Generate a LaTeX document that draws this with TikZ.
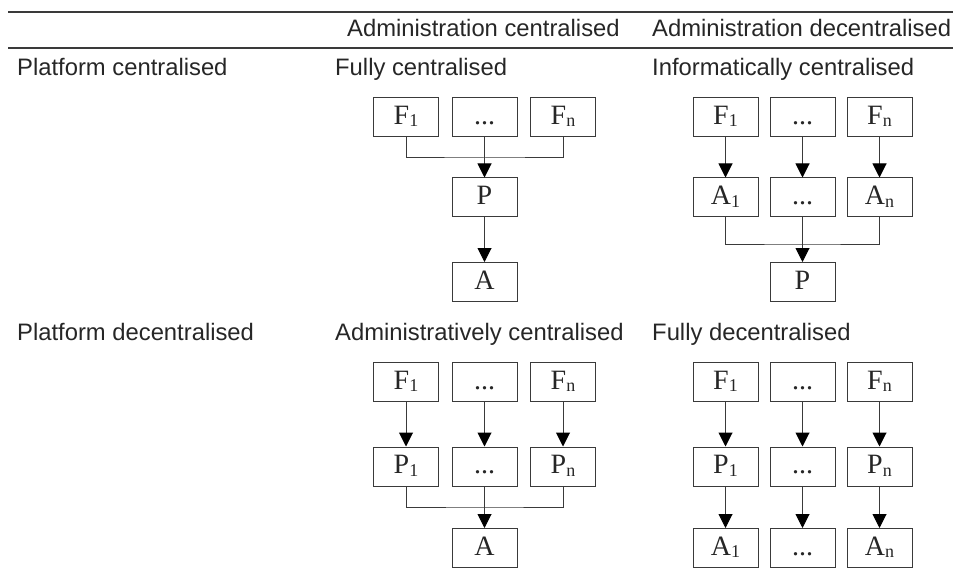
\documentclass[tikz,border=0pt]{standalone}
\usepackage{fontspec}
\setmainfont{Liberation Serif}
\setsansfont{Liberation Sans}
\usetikzlibrary{arrows.meta}
\definecolor{txt}{HTML}{262626}
\definecolor{linec}{HTML}{3A3A3A}
\newcommand{\sbs}[1]{{\fontsize{18}{18}\selectfont\raisebox{-2.5pt}{#1}}}
\tikzset{
  box/.style={draw=linec, line width=1pt, minimum width=65pt, minimum height=39pt, inner sep=0pt, text height=18pt, text depth=4pt, font=\fontsize{28}{28}\selectfont, text=txt},
  lab/.style={anchor=base west, font=\sffamily\fontsize{23.8}{24}\selectfont, text=txt, inner sep=0pt},
  con/.style={draw=linec, line width=1pt},
  arr/.style={draw=linec, line width=1pt, -{Triangle[length=14pt,width=14pt,color=black]}},
  rulel/.style={draw=linec, line width=1.3pt}
}
\begin{document}
\begin{tikzpicture}[x=1pt,y=1pt]
\useasboundingbox (0,0) rectangle (953,-572);
% rules
\coordinate (r1a) at (8,-12); \coordinate (r1b) at (953,-12);
\coordinate (r2a) at (8,-48); \coordinate (r2b) at (953,-48);
\draw[rulel] (r1a) -- (r1b);
\draw[rulel] (r2a) -- (r2b);
% headers and labels
\node[lab] (h1) at (347,-37) {Administration centralised};
\node[lab] (h2) at (652,-37) {Administration decentralised};
\node[lab] (l1) at (17,-76) {Platform centralised};
\node[lab] (t1) at (335,-76) {Fully centralised};
\node[lab] (t2) at (652,-76) {Informatically centralised};
\node[lab] (l2) at (17,-340) {Platform decentralised};
\node[lab] (t3) at (335,-340) {Administratively centralised};
\node[lab] (t4) at (652,-340) {Fully decentralised};

% ---- Fully centralised
\node[box] (a1) at (406,-117.5) {F\sbs{1}};
\node[box] (a2) at (484.5,-117.5) {...};
\node[box] (a3) at (563,-117.5) {F\sbs{n}};
\node[box] (ap) at (484.5,-197.5) {P};
\node[box] (aa) at (484.5,-282) {A};
\coordinate (aj) at (484.5,-158);
\draw[con] (a1.south) |- (aj) -| (a3.south);
\draw[arr] (a2) -- (ap);
\draw[arr] (ap) -- (aa);

% ---- Informatically centralised
\node[box] (b1) at (725.5,-117.5) {F\sbs{1}};
\node[box] (b2) at (802.5,-117.5) {...};
\node[box] (b3) at (879.5,-117.5) {F\sbs{n}};
\node[box] (ba1) at (725.5,-197.5) {A\sbs{1}};
\node[box] (ba2) at (802.5,-197.5) {...};
\node[box] (ba3) at (879.5,-197.5) {A\sbs{n}};
\node[box] (bp) at (802.5,-282) {P};
\coordinate (bj) at (802.5,-244);
\draw[arr] (b1) -- (ba1);
\draw[arr] (b2) -- (ba2);
\draw[arr] (b3) -- (ba3);
\draw[con] (ba1.south) |- (bj) -| (ba3.south);
\draw[arr] (ba2) -- (bp);

% ---- Administratively centralised
\node[box] (c1) at (406,-382) {F\sbs{1}};
\node[box] (c2) at (484.5,-382) {...};
\node[box] (c3) at (563,-382) {F\sbs{n}};
\node[box] (cp1) at (406,-466.5) {P\sbs{1}};
\node[box] (cp2) at (484.5,-466.5) {...};
\node[box] (cp3) at (563,-466.5) {P\sbs{n}};
\node[box] (ca) at (484.5,-548) {A};
\coordinate (cj) at (484.5,-507);
\draw[arr] (c1) -- (cp1);
\draw[arr] (c2) -- (cp2);
\draw[arr] (c3) -- (cp3);
\draw[con] (cp1.south) |- (cj) -| (cp3.south);
\draw[arr] (cp2) -- (ca);

% ---- Fully decentralised
\node[box] (d1) at (725.5,-382) {F\sbs{1}};
\node[box] (d2) at (802.5,-382) {...};
\node[box] (d3) at (879.5,-382) {F\sbs{n}};
\node[box] (dp1) at (725.5,-466.5) {P\sbs{1}};
\node[box] (dp2) at (802.5,-466.5) {...};
\node[box] (dp3) at (879.5,-466.5) {P\sbs{n}};
\node[box] (da1) at (725.5,-548) {A\sbs{1}};
\node[box] (da2) at (802.5,-548) {...};
\node[box] (da3) at (879.5,-548) {A\sbs{n}};
\draw[arr] (d1) -- (dp1);
\draw[arr] (d2) -- (dp2);
\draw[arr] (d3) -- (dp3);
\draw[arr] (dp1) -- (da1);
\draw[arr] (dp2) -- (da2);
\draw[arr] (dp3) -- (da3);
\end{tikzpicture}
\end{document}
